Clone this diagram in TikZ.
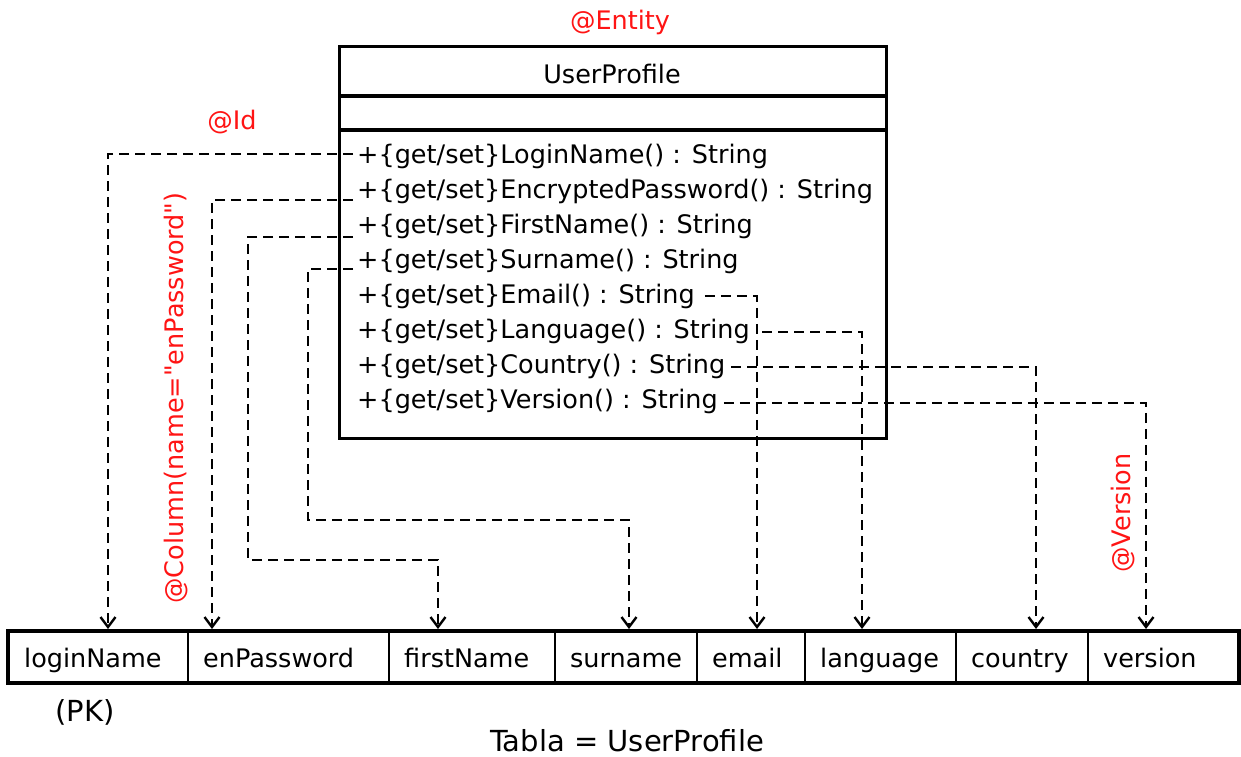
\documentclass[tikz,border=0pt]{standalone}
\usepackage{fontspec}
\setmainfont{DejaVu Sans}[Ligatures=TeXOff]
\usetikzlibrary{arrows.meta}
\definecolor{annored}{RGB}{255,20,20}

\begin{document}
\begin{tikzpicture}[x=1pt,y=-1pt,
  txt/.style={inner sep=4pt, font=\fontsize{25.5}{30}\selectfont},
  bigtxt/.style={inner sep=4pt, font=\fontsize{29}{34}\selectfont},
  meth/.style={txt, anchor=base west},
  cellt/.style={txt, anchor=base west},
  anno/.style={text=annored, inner sep=2pt, font=\fontsize{25.5}{30}\selectfont},
  link/.style={line width=2.4pt, dash pattern=on 10pt off 6pt},
  conn/.style={link, -{Straight Barb[length=10pt,width=15pt]}},
  frame/.style={line width=3.2pt},
  sep/.style={line width=2pt},
]
\useasboundingbox (0,0) rectangle (1241,756);

% ---- class box ----
\node[draw, frame, anchor=north west, minimum width=547pt, minimum height=392pt, inner sep=0pt] (cls) at (338,45) {};
\draw[frame] (338,96) -- (885,96);
\draw[frame] (338,130) -- (885,130);
\node[txt, anchor=base] (title) at (612,83) {UserProfile};

\node[meth] (m1) at (353,163) {+\{get/set\}LoginName() : String};
\node[meth] (m2) at (353,198) {+\{get/set\}EncryptedPassword() : String};
\node[meth] (m3) at (353,233) {+\{get/set\}FirstName() : String};
\node[meth] (m4) at (353,268) {+\{get/set\}Surname() : String};
\node[meth] (m5) at (353,303) {+\{get/set\}Email() : String};
\node[meth] (m6) at (353,338) {+\{get/set\}Language() : String};
\node[meth] (m7) at (353,373) {+\{get/set\}Country() : String};
\node[meth] (m8) at (353,408) {+\{get/set\}Version() : String};

% ---- table ----
\draw[line width=3.5pt] (8,631) rectangle (1239,683);
\foreach \x in {188,389,555,697,805,956,1088}
  \draw[sep] (\x,631) -- (\x,683);
\node[cellt] (c1) at (20,667) {loginName};
\node[cellt] (c2) at (199,667) {enPassword};
\node[cellt] (c3) at (400,667) {firstName};
\node[cellt] (c4) at (566,667) {surname};
\node[cellt] (c5) at (708,667) {email};
\node[cellt] (c6) at (816,667) {language};
\node[cellt] (c7) at (967,667) {country};
\node[cellt] (c8) at (1099,667) {version};

\node[bigtxt, anchor=base] (pk) at (85,721) {(PK)};
\node[bigtxt, anchor=base] (tname) at (627,751) {Tabla = UserProfile};

% ---- arrow targets on the table top ----
\coordinate (t1) at (108,629);
\coordinate (t2) at (212,629);
\coordinate (t3) at (438,629);
\coordinate (t4) at (629,629);
\coordinate (t5) at (757,629);
\coordinate (t6) at (862,629);
\coordinate (t7) at (1036,629);
\coordinate (t8) at (1146,629);
\coordinate (b3) at (248,560);
\coordinate (b4) at (308,520);

% ---- mappings ----
\draw[conn] ([shift={(0,-9)}]m1.base west) -| (t1);
\draw[conn] ([shift={(0,2)}]m2.base west) -| (t2);
\draw[conn] ([shift={(0,4)}]m3.base west) -| (b3) -| (t3);
\draw[conn] ([shift={(0,1)}]m4.base west) -| (b4) -| (t4);
\draw[conn] ([shift={(6,-7)}]m5.base east) -| (t5);
\draw[conn] ([shift={(8,-6)}]m6.base east) -| (t6);
\draw[conn] ([shift={(2,-6)}]m7.base east) -| (t7);
\draw[conn] ([shift={(2,-5)}]m8.base east) -| (t8);

% ---- annotations ----
\node[anno] (ent) at (620,22) {@Entity};
\node[anno] (idl) at (232,122) {@Id};
\node[anno, rotate=90] (col) at (176,398) {@Column(name="enPassword")};
\node[anno, rotate=90] (ver) at (1123,513) {@Version};
\end{tikzpicture}
\end{document}
